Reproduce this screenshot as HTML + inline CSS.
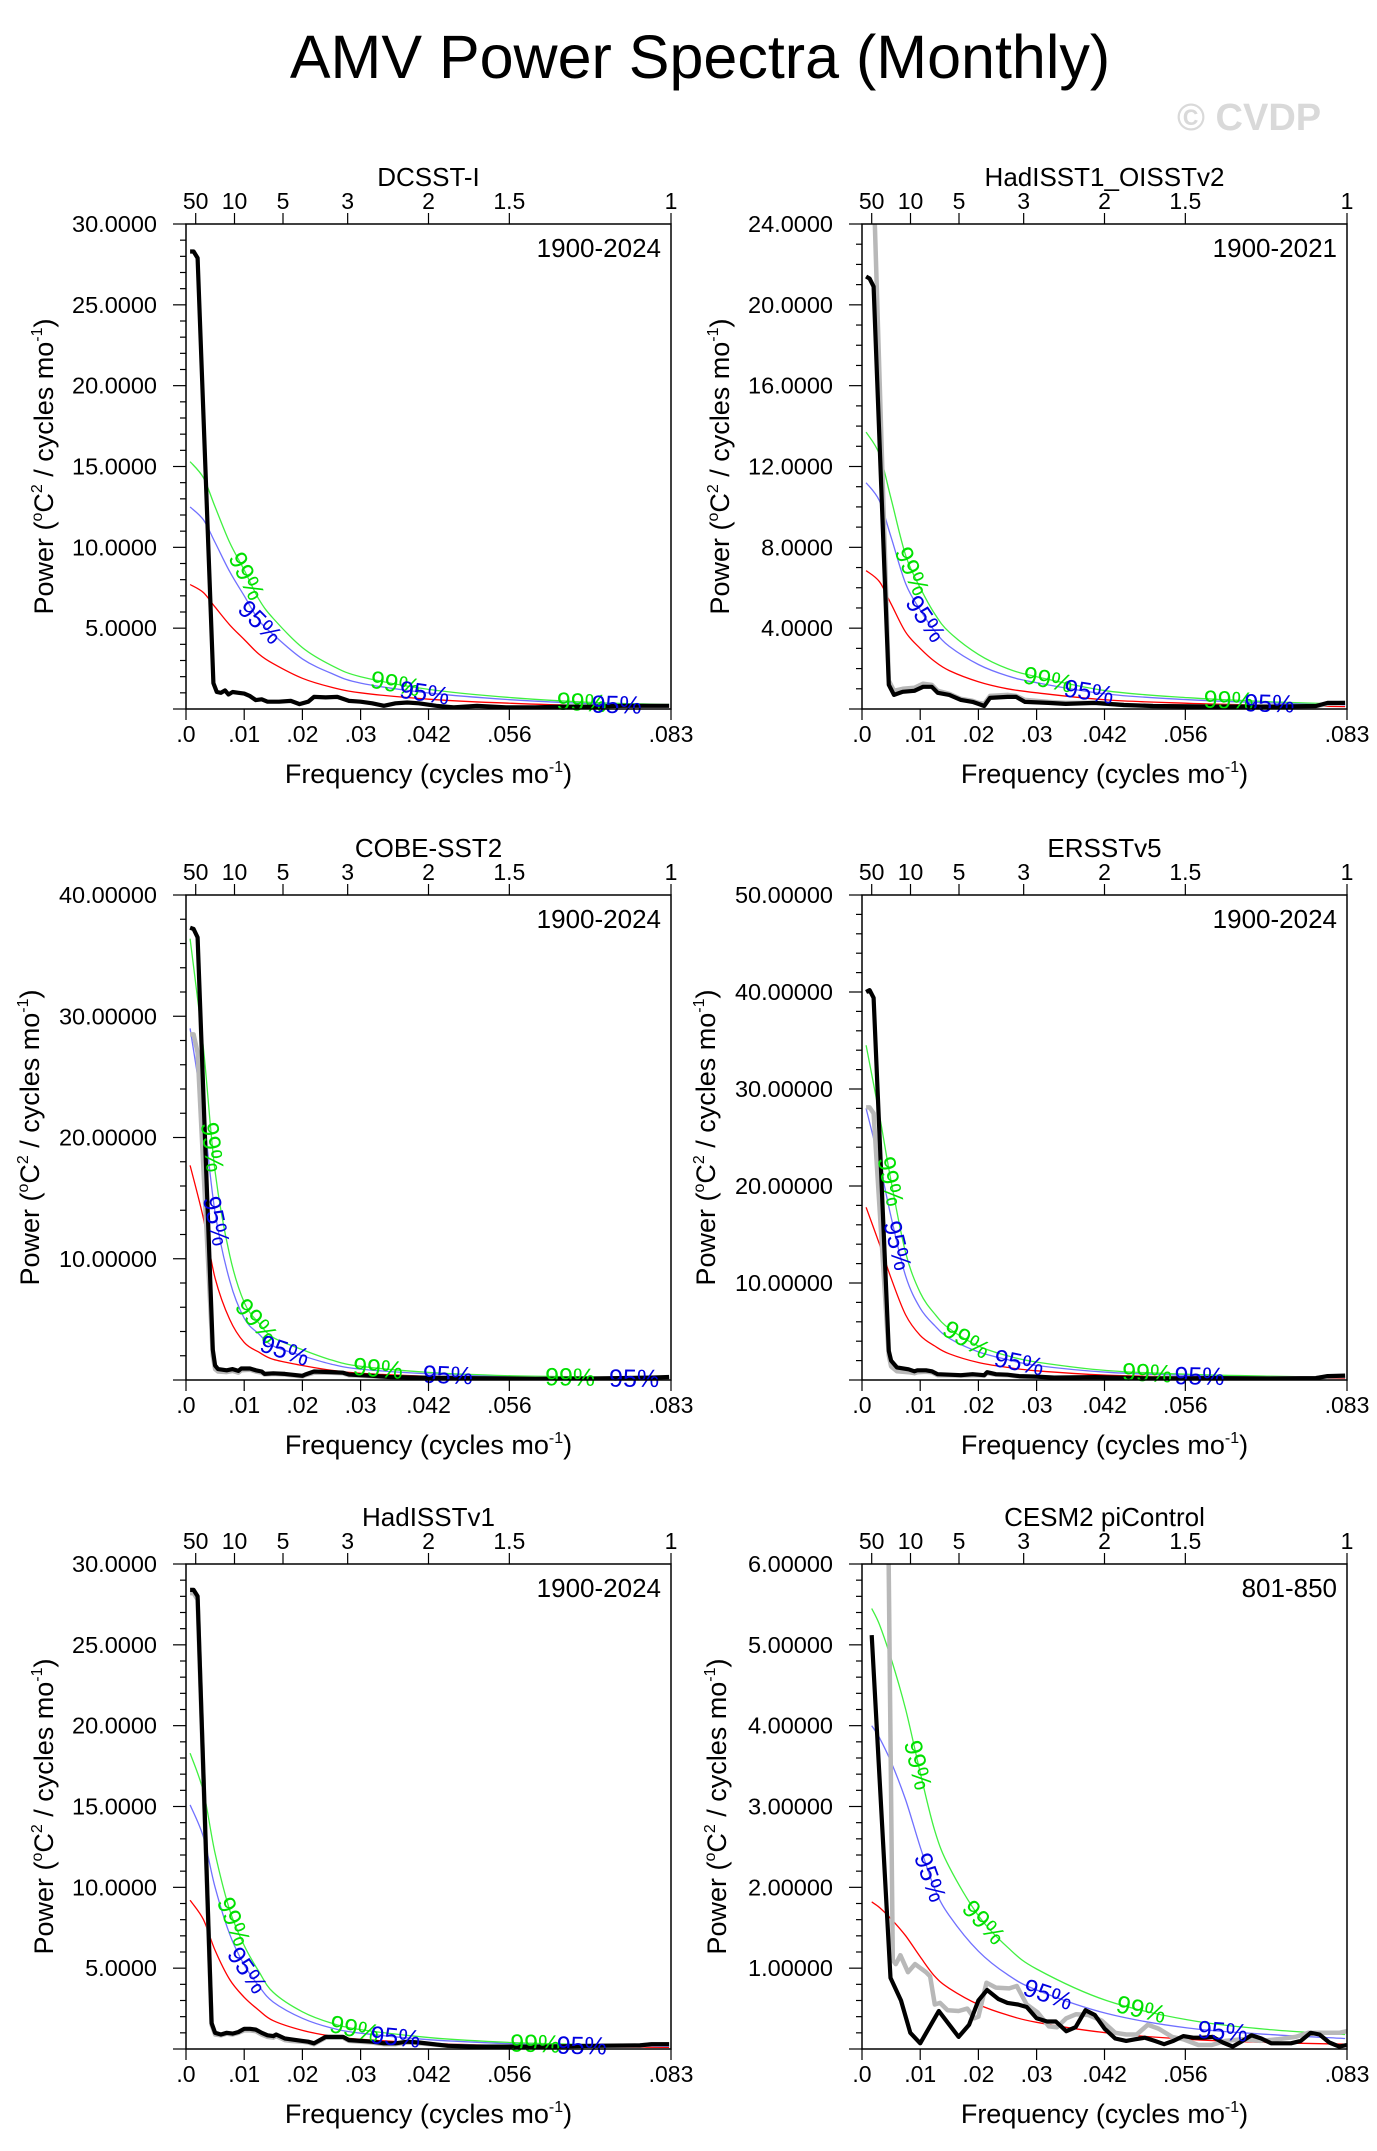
<!DOCTYPE html>
<html><head><meta charset="utf-8"><style>
html,body{margin:0;padding:0;background:#fff;}
svg{display:block;font-family:"Liberation Sans",Arial,sans-serif;}
</style></head><body>
<svg id="root" width="1377" height="2151" viewBox="0 0 1377 2151" xmlns="http://www.w3.org/2000/svg">
<rect width="1377" height="2151" fill="#fff"/>
<text x="700" y="78" font-size="61" text-anchor="middle">AMV Power Spectra (Monthly)</text>
<text x="1177" y="130" font-size="38" font-weight="bold" fill="#d9d9d9">© CVDP</text>
</svg>
<script>
// ---------- shared data ----------
const periodTicks = [50, 10, 5, 3, 2, 1.5, 1];
const periodLabels = ["50","10","5","3","2","1.5","1"];
const freqTickVals = [0, 0.01, 0.02, 0.03, 0.041667, 0.055556, 0.083333];
const freqTickLabels = [".0",".01",".02",".03",".042",".056",".083"];
const redFreq = [0.0007, 0.003, 0.005, 0.0075, 0.01, 0.0125, 0.015, 0.02, 0.025, 0.03, 0.042, 0.056, 0.07, 0.083];
const redFreq6 = [0.00166, 0.003, 0.005, 0.0075, 0.01, 0.0125, 0.015, 0.02, 0.025, 0.03, 0.042, 0.056, 0.07, 0.083];

// ---------- panel 1: DCSST-I ----------
const p1Freq = [0.0007,0.0013,0.002,0.0047,0.0053,0.006,0.0067,0.0073,0.008,0.009,0.01,0.011,0.012,0.013,0.014,0.016,0.018,0.0195,0.021,0.022,0.024,0.026,0.028,0.03,0.032,0.034,0.036,0.038,0.04,0.043,0.046,0.05,0.055,0.06,0.065,0.07,0.075,0.08,0.083];
const p1Black = [28.3,28.3,27.9,1.6,1.05,1.0,1.15,0.9,1.05,1.0,0.95,0.8,0.55,0.6,0.45,0.45,0.5,0.3,0.45,0.75,0.72,0.75,0.5,0.45,0.35,0.2,0.35,0.4,0.35,0.2,0.1,0.2,0.1,0.1,0.15,0.15,0.2,0.2,0.2];
const p1Red = [7.7,7.2,6.3,5.2,4.3,3.4,2.8,1.9,1.35,1.0,0.6,0.35,0.2,0.14];
const p1C95 = [12.5,11.7,10.3,8.5,7.0,5.5,4.6,3.1,2.2,1.6,0.98,0.57,0.33,0.23];
const p1C99 = [15.3,14.3,12.5,10.3,8.6,6.8,5.6,3.8,2.7,2.0,1.2,0.7,0.4,0.28];

// ---------- panel 2: HadISST1_OISSTv2 ----------
const p2Freq = [0.0007,0.0013,0.002,0.0046,0.0055,0.007,0.009,0.0105,0.012,0.013,0.015,0.017,0.019,0.02,0.021,0.022,0.025,0.0265,0.028,0.032,0.035,0.04,0.045,0.05,0.06,0.07,0.078,0.08,0.083];
const p2Black = [21.4,21.3,20.9,1.2,0.7,0.85,0.9,1.1,1.1,0.8,0.7,0.45,0.35,0.25,0.15,0.55,0.6,0.6,0.35,0.3,0.25,0.3,0.2,0.15,0.12,0.12,0.15,0.3,0.3];
const p2Gray = [30,30,26,1.4,0.9,1.0,1.05,1.25,1.2,0.9,0.75,0.5,0.4,0.3,0.25,0.65,0.7,0.65,0.45,0.35,0.3,0.3,0.2,0.15,0.12,0.12,0.15,0.25,0.3];
const p2Red = [6.85,6.3,5.2,3.8,3.0,2.35,1.9,1.35,1.0,0.8,0.45,0.28,0.18,0.12];
const p2C95 = [11.2,10.3,8.5,6.2,4.9,3.85,3.1,2.2,1.64,1.3,0.74,0.46,0.3,0.2];
const p2C99 = [13.7,12.6,10.4,7.6,6.0,4.7,3.8,2.7,2.0,1.6,0.9,0.56,0.36,0.24];

// ---------- panel 3: COBE-SST2 ----------
const p3Freq = [0.0007,0.0013,0.002,0.0046,0.005,0.0055,0.007,0.008,0.009,0.0095,0.011,0.012,0.013,0.0135,0.015,0.017,0.019,0.02,0.0205,0.022,0.025,0.027,0.028,0.03,0.032,0.035,0.04,0.05,0.06,0.07,0.08,0.083];
const p3Black = [37.3,37.2,36.5,2.5,1.2,0.9,0.8,0.9,0.75,0.95,0.95,0.8,0.7,0.5,0.55,0.5,0.4,0.35,0.45,0.7,0.65,0.6,0.45,0.4,0.35,0.25,0.2,0.15,0.1,0.12,0.2,0.25];
const p3Gray = [28.5,28.5,27,2.0,0.9,0.7,0.65,0.75,0.6,0.8,0.85,0.7,0.6,0.45,0.5,0.45,0.35,0.3,0.4,0.6,0.6,0.55,0.4,0.35,0.3,0.22,0.18,0.12,0.1,0.1,0.18,0.2];
const p3Red = [17.7,13.3,8.4,5.0,3.1,2.3,1.7,1.2,0.8,0.55,0.3,0.17,0.12,0.1];
const p3C95 = [29.0,21.8,13.8,8.2,5.1,3.8,2.8,2.0,1.3,0.9,0.5,0.28,0.2,0.16];
const p3C99 = [36.4,27.3,17.2,10.3,6.4,4.7,3.5,2.5,1.65,1.13,0.62,0.35,0.25,0.2];

// ---------- panel 4: ERSSTv5 ----------
const p4Freq = [0.0007,0.0013,0.002,0.0046,0.005,0.006,0.008,0.009,0.0095,0.011,0.012,0.013,0.015,0.017,0.019,0.02,0.021,0.0215,0.023,0.025,0.027,0.03,0.033,0.04,0.05,0.06,0.07,0.078,0.08,0.083];
const p4Black = [40.0,40.2,39.4,3.0,2.0,1.3,1.1,0.9,1.0,1.0,0.9,0.6,0.55,0.5,0.6,0.55,0.5,0.8,0.6,0.55,0.4,0.35,0.25,0.3,0.15,0.2,0.15,0.2,0.4,0.45];
const p4Gray = [28.1,28.1,27.5,2.5,1.4,0.9,0.8,0.7,0.8,0.85,0.8,0.5,0.5,0.45,0.5,0.5,0.45,0.7,0.55,0.5,0.35,0.3,0.25,0.25,0.15,0.15,0.15,0.2,0.35,0.4];
const p4Red = [17.8,14.0,10.5,6.7,4.6,3.5,2.7,1.8,1.3,0.95,0.5,0.3,0.2,0.15];
const p4C95 = [28.0,22.4,16.8,10.7,7.4,5.6,4.3,2.9,2.1,1.5,0.8,0.48,0.32,0.24];
const p4C99 = [34.5,27.3,20.5,13.1,9.0,6.8,5.3,3.5,2.5,1.85,0.98,0.59,0.39,0.29];

// ---------- panel 5: HadISSTv1 ----------
const p5Freq = [0.0007,0.0013,0.002,0.0044,0.005,0.006,0.007,0.008,0.009,0.01,0.011,0.012,0.013,0.014,0.015,0.0155,0.017,0.018,0.02,0.021,0.022,0.024,0.026,0.027,0.028,0.03,0.032,0.034,0.036,0.038,0.04,0.045,0.05,0.06,0.07,0.078,0.08,0.083];
const p5Black = [28.4,28.4,28.0,1.6,1.0,0.9,1.0,0.95,1.05,1.25,1.25,1.2,1.0,0.85,0.8,0.9,0.65,0.6,0.5,0.45,0.35,0.75,0.75,0.75,0.55,0.5,0.45,0.35,0.35,0.45,0.4,0.2,0.15,0.15,0.2,0.22,0.3,0.3];
const p5Gray = [28.2,28.2,27.8,1.5,0.9,0.85,0.95,0.9,1.0,1.15,1.15,1.1,0.9,0.75,0.7,0.8,0.55,0.5,0.45,0.4,0.3,0.7,0.7,0.7,0.5,0.45,0.4,0.3,0.3,0.4,0.35,0.2,0.15,0.15,0.2,0.22,0.3,0.3];
const p5Red = [9.2,8.0,6.1,4.3,3.2,2.4,1.75,1.15,0.8,0.6,0.35,0.2,0.14,0.1];
const p5C95 = [15.1,13.1,10.0,7.1,5.2,3.9,2.9,1.9,1.3,0.98,0.57,0.33,0.23,0.16];
const p5C99 = [18.3,15.9,12.1,8.6,6.4,4.8,3.5,2.3,1.6,1.2,0.7,0.4,0.28,0.2];

// ---------- panel 6: CESM2 piControl ----------
const p6Freq = [0.00166,0.0049,0.0067,0.0083,0.01,0.0132,0.0166,0.0184,0.02,0.0215,0.0234,0.025,0.0268,0.0283,0.03,0.0318,0.0333,0.0351,0.0367,0.0384,0.04,0.0417,0.0435,0.0454,0.0469,0.0486,0.0503,0.0519,0.0535,0.0552,0.0569,0.0586,0.0603,0.062,0.0637,0.0654,0.0669,0.0686,0.0703,0.072,0.0737,0.0754,0.0771,0.0786,0.0803,0.082,0.0833];
const p6Black = [5.12,0.88,0.6,0.2,0.07,0.47,0.15,0.3,0.6,0.73,0.62,0.57,0.55,0.52,0.38,0.34,0.34,0.22,0.27,0.48,0.42,0.25,0.13,0.1,0.12,0.14,0.1,0.06,0.1,0.16,0.14,0.14,0.15,0.08,0.03,0.1,0.17,0.13,0.07,0.07,0.07,0.1,0.2,0.18,0.08,0.03,0.05];
const p6GrayFreq = [0.004,0.0053,0.0058,0.0066,0.0079,0.0091,0.011,0.0117,0.0125,0.0134,0.0147,0.0166,0.0181,0.0193,0.02,0.0214,0.023,0.0253,0.0266,0.0283,0.0302,0.0321,0.0335,0.0351,0.0368,0.0389,0.0412,0.0435,0.0454,0.0472,0.0491,0.051,0.0533,0.0552,0.0578,0.0601,0.0624,0.0654,0.0684,0.0714,0.0745,0.0767,0.0782,0.0797,0.082,0.0833];
const p6Gray = [10,1.1,1.05,1.16,0.95,1.05,0.95,0.9,0.55,0.57,0.48,0.47,0.5,0.38,0.4,0.82,0.76,0.75,0.78,0.55,0.45,0.28,0.27,0.38,0.43,0.42,0.35,0.2,0.18,0.18,0.3,0.25,0.15,0.12,0.05,0.05,0.1,0.12,0.1,0.12,0.15,0.2,0.2,0.2,0.2,0.22];
const p6Red = [1.82,1.75,1.61,1.4,1.14,0.9,0.75,0.55,0.42,0.33,0.2,0.12,0.08,0.06];
const p6C95 = [4.0,3.85,3.55,3.08,2.5,1.98,1.65,1.21,0.92,0.73,0.44,0.26,0.18,0.13];
const p6C99 = [5.45,5.25,4.83,4.2,3.42,2.7,2.25,1.65,1.26,0.99,0.6,0.36,0.24,0.18];

// ---------- panel configs ----------
const panels = [
 {id:"dcsst-i", title:"DCSST-I", years:"1900-2024", L:186, T:224, ymax:30, major:5, minor:1, dec:4, titleOff:142,
  freq:p1Freq, black:p1Black, grayFreq:null, gray:null, rf:redFreq, red:p1Red, c95:p1C95, c99:p1C99,
  l99:[0.0105,0.036,0.068], l95:[0.0128,0.041,0.074]},
 {id:"hadisst1-oisstv2", title:"HadISST1_OISSTv2", years:"1900-2021", L:862, T:224, ymax:24, major:4, minor:1, dec:4, titleOff:142,
  freq:p2Freq, black:p2Black, grayFreq:p2Freq, gray:p2Gray, rf:redFreq, red:p2Red, c95:p2C95, c99:p2C99,
  l99:[0.0087,0.032,0.063], l95:[0.011,0.039,0.070]},
 {id:"cobe-sst2", title:"COBE-SST2", years:"1900-2024", L:186, T:895, ymax:40, major:10, minor:2, dec:5, titleOff:156,
  freq:p3Freq, black:p3Black, grayFreq:p3Freq, gray:p3Gray, rf:redFreq, red:p3Red, c95:p3C95, c99:p3C99,
  l99:[0.0046,0.0122,0.033,0.066], l95:[0.0053,0.017,0.045,0.077]},
 {id:"ersstv5", title:"ERSSTv5", years:"1900-2024", L:862, T:895, ymax:50, major:10, minor:2, dec:5, titleOff:156,
  freq:p4Freq, black:p4Black, grayFreq:p4Freq, gray:p4Gray, rf:redFreq, red:p4Red, c95:p4C95, c99:p4C99,
  l99:[0.005,0.018,0.049], l95:[0.0062,0.027,0.058]},
 {id:"hadisstv1", title:"HadISSTv1", years:"1900-2024", L:186, T:1564, ymax:30, major:5, minor:1, dec:4, titleOff:142,
  freq:p5Freq, black:p5Black, grayFreq:p5Freq, gray:p5Gray, rf:redFreq, red:p5Red, c95:p5C95, c99:p5C99,
  l99:[0.0083,0.029,0.060], l95:[0.0106,0.036,0.068]},
 {id:"cesm2-picontrol", title:"CESM2 piControl", years:"801-850", L:862, T:1564, ymax:6, major:1, minor:0.2, dec:5, titleOff:145,
  freq:p6Freq, black:p6Black, grayFreq:p6GrayFreq, gray:p6Gray, rf:redFreq6, red:p6Red, c95:p6C95, c99:p6C99,
  l99:[0.0097,0.021,0.048], l95:[0.0118,0.032,0.062]}
];

const NS = "http://www.w3.org/2000/svg";
const root = document.getElementById("root");
const W = 485, H = 485, XMAX = 0.083333;

function mk(tag, attrs, parent){
  const e = document.createElementNS(NS, tag);
  for (const k in attrs) e.setAttribute(k, attrs[k]);
  parent.appendChild(e);
  return e;
}
function linePath(xs, ys, sx, sy){
  let d = "";
  for (let i=0;i<xs.length;i++) d += (i?"L":"M") + sx(xs[i]).toFixed(1) + "," + sy(ys[i]).toFixed(1);
  return d;
}
function smoothPath(xs, ys, sx, sy){
  const p = xs.map((x,i)=>[sx(x), sy(ys[i])]);
  let d = "M"+p[0][0].toFixed(1)+","+p[0][1].toFixed(1);
  for (let i=0;i<p.length-1;i++){
    const p0=p[Math.max(0,i-1)], p1=p[i], p2=p[i+1], p3=p[Math.min(p.length-1,i+2)];
    const c1=[p1[0]+(p2[0]-p0[0])/6, p1[1]+(p2[1]-p0[1])/6];
    const c2=[p2[0]-(p3[0]-p1[0])/6, p2[1]-(p3[1]-p1[1])/6];
    d += "C"+c1[0].toFixed(1)+","+c1[1].toFixed(1)+" "+c2[0].toFixed(1)+","+c2[1].toFixed(1)+" "+p2[0].toFixed(1)+","+p2[1].toFixed(1);
  }
  return d;
}
function interp(xs, ys, f){
  if (f <= xs[0]) return ys[0];
  for (let i=0;i<xs.length-1;i++){
    if (f <= xs[i+1]){ const t=(f-xs[i])/(xs[i+1]-xs[i]); return ys[i]+t*(ys[i+1]-ys[i]); }
  }
  return ys[ys.length-1];
}

panels.forEach((p, idx) => {
  const L=p.L, T=p.T, R=L+W, B=T+H;
  const sx = f => L + f / XMAX * W;
  const sy = v => B - v / p.ymax * H;
  const g = mk("g", {}, root);
  
  

  const cp = mk("clipPath", {id:"clip"+idx}, g);
  mk("rect", {x:L, y:T, width:W, height:H}, cp);

  const t = mk("text", {x:L+W/2, y:T-38, "font-size":26, "text-anchor":"middle"}, g);
  t.textContent = p.title;
  
  

  const yr = mk("text", {x:R-10, y:T+33, "font-size":26, "text-anchor":"end"}, g);
  yr.textContent = p.years;
  
  

  const curves = [[p.red,"#ff0000","red-noise-curve"],[p.c95,"#7070ff","confidence-95-curve"],[p.c99,"#40f040","confidence-99-curve"]];
  curves.forEach(c => {
    const path = mk("path", {d:smoothPath(p.rf, c[0], sx, sy), fill:"none", stroke:c[1], "stroke-width":1.3, "clip-path":"url(#clip"+idx+")"}, g);
    
    
  });

  if (p.gray){
    const gp = mk("path", {d:linePath(p.grayFreq, p.gray, sx, sy), fill:"none", stroke:"#b8b8b8", "stroke-width":4.5, "stroke-linejoin":"round", "clip-path":"url(#clip"+idx+")"}, g);
    
    
  }
  const bp = mk("path", {d:linePath(p.freq, p.black, sx, sy), fill:"none", stroke:"#000", "stroke-width":4.2, "stroke-linejoin":"round", "clip-path":"url(#clip"+idx+")"}, g);
  
  

  const lab = (arr, ys, txt, col, nm) => arr.forEach(f => {
    const x = sx(f), y = sy(interp(p.rf, ys, f));
    const x2 = sx(f+0.0008), y2 = sy(interp(p.rf, ys, f+0.0008));
    const ang = Math.atan2(y2-y, x2-x) * 180 / Math.PI;
    const tx = mk("text", {x:x, y:y+9, "font-size":25, fill:col, "text-anchor":"middle", transform:"rotate("+ang.toFixed(1)+" "+x.toFixed(1)+" "+y.toFixed(1)+")"}, g);
    tx.textContent = txt;
    
    
  });
  lab(p.l99, p.c99, "99%", "#00e000", "label-99-percent");
  lab(p.l95, p.c95, "95%", "#0000e0", "label-95-percent");

  const fr = mk("rect", {x:L, y:T, width:W, height:H, fill:"none", stroke:"#000", "stroke-width":1.5}, g);
  
  

  const nMinor = Math.round(p.ymax / p.minor);
  for (let i=0;i<=nMinor;i++){
    const v = i * p.minor, y = sy(v);
    const isMajor = Math.abs(v/p.major - Math.round(v/p.major)) < 1e-6;
    mk("line", {x1:L-(isMajor?13:6), x2:L, y1:y, y2:y, stroke:"#000", "stroke-width":1.2}, g);
    if (isMajor && v > 0){
      const tl = mk("text", {x:L-29, y:y+8, "font-size":23.5, "text-anchor":"end"}, g);
      tl.textContent = v.toFixed(p.dec);
      
      
    }
  }
  periodTicks.forEach((yrs, i) => {
    const x = sx(1/(12*yrs));
    mk("line", {x1:x, x2:x, y1:T-11, y2:T, stroke:"#000", "stroke-width":1.2}, g);
    const tl = mk("text", {x:x, y:T-15, "font-size":23, "text-anchor":"middle"}, g);
    tl.textContent = periodLabels[i];
    
    
  });
  freqTickVals.forEach((f, i) => {
    const x = sx(f);
    mk("line", {x1:x, x2:x, y1:B, y2:B+11, stroke:"#000", "stroke-width":1.2}, g);
    const tl = mk("text", {x:x, y:B+33, "font-size":23, "text-anchor":"middle"}, g);
    tl.textContent = freqTickLabels[i];
    
    
  });

  const xt = mk("text", {x:L+W/2, y:B+74, "font-size":27, "text-anchor":"middle"}, g);
  xt.innerHTML = 'Frequency (cycles mo<tspan dy="-11" font-size="16">-1</tspan><tspan dy="11">)</tspan>';
  
  

  const cx = L - p.titleOff + 9, cy = T + H/2;
  const yt = mk("text", {x:cx, y:cy, "font-size":27, "text-anchor":"middle", transform:"rotate(-90 "+cx+" "+cy+")"}, g);
  yt.innerHTML = 'Power (<tspan dy="-11" font-size="16">o</tspan><tspan dy="11">C</tspan><tspan dy="-11" font-size="16">2</tspan><tspan dy="11"> / cycles mo</tspan><tspan dy="-11" font-size="16">-1</tspan><tspan dy="11">)</tspan>';
  
  
});
</script>
</body></html>
